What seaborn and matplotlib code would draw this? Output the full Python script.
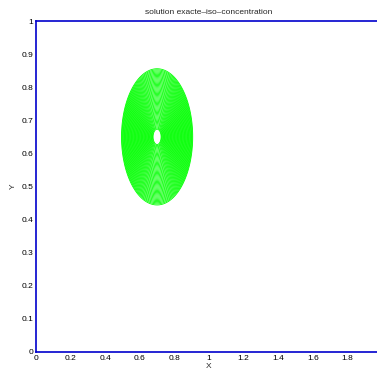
import numpy as np
import matplotlib
matplotlib.use("Agg")
import matplotlib.pyplot as plt
import seaborn as sns

# field: peak location and support radius of the iso-concentration rings
center_x = 0.70
center_y = 0.65
radius = 0.21
n_levels = 55
level_min = 0.02
level_max = 0.89

x_ticks = [0, 0.2, 0.4, 0.6, 0.8, 1, 1.2, 1.4, 1.6, 1.8]
y_ticks = [0, 0.1, 0.2, 0.3, 0.4, 0.5, 0.6, 0.7, 0.8, 0.9, 1]

sns.set_style("white")
plt.rcParams['font.family'] = ['Liberation Sans', 'DejaVu Sans']

fig = plt.figure(figsize=(3.77, 3.77), dpi=100)
ax = fig.add_axes([36 / 377, 25 / 377, 346 / 377, 331 / 377])

xs = np.linspace(0, 2, 801)
ys = np.linspace(0, 1, 401)
X, Y = np.meshgrid(xs, ys)
r = np.sqrt((X - center_x) ** 2 + (Y - center_y) ** 2) / radius
C = np.clip(1 - r, 0, None)
levels = np.linspace(level_min, level_max, n_levels)
ax.contour(X, Y, C, levels=levels, colors=[(0, 1, 0)], linewidths=0.6)

ax.set_xlim(0, 2)
ax.set_ylim(0, 1)
ax.set_xticks(x_ticks)
ax.set_xticklabels([f"{t:g}" for t in x_ticks])
ax.set_yticks(y_ticks)
ax.set_yticklabels([f"{t:g}" for t in y_ticks])
ax.tick_params(direction="in", length=3, width=0.8, labelsize=6, colors="black", pad=2)
for side in ["left", "bottom", "top", "right"]:
    ax.spines[side].set_color("#0000cc")
    ax.spines[side].set_linewidth(1.2)
ax.set_xlabel("X", fontsize=6, labelpad=1)
ax.set_ylabel("Y", fontsize=6, labelpad=3)
ax.set_title("solution exacte\u2013iso\u2013concentration", fontsize=6, pad=5)

fig.savefig("out.png", dpi=100)
